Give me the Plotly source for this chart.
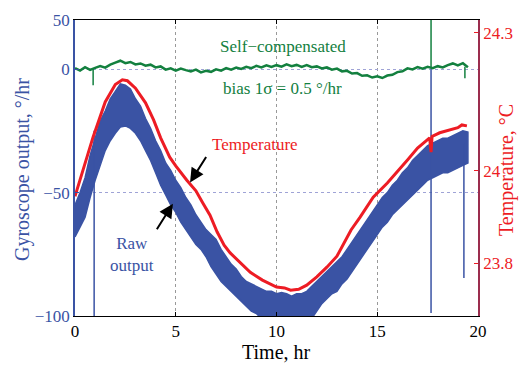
import plotly.graph_objects as go

# ---------------- data ----------------
time = [i * 0.25 for i in range(79)]  # hr, sampling grid 0 .. 19.5

raw_upper = [-55, -50, -44, -35, -28, -21, -17, -12, -9, -6, -6.5, -8, -12, -15, -20, -24,
             -29, -33, -38, -41, -45, -48, -52, -55, -59, -62, -65, -67, -69, -73, -76, -79,
             -81, -84, -86, -87, -88, -89, -90, -90, -91, -90.5, -91, -92, -91, -91, -90, -88,
             -86, -84, -82, -80, -78, -76, -73, -70, -67, -64, -61, -58, -55, -52, -50, -47,
             -45, -42, -40, -37, -35, -33, -31, -30, -29, -28, -28, -27, -26, -25, -25.5]
raw_lower = [-68, -64, -60, -52, -45, -39, -33, -29, -26, -23.5, -23, -24, -26, -29, -33, -37,
             -42, -47, -51, -55, -58, -62, -65, -68, -71, -73, -76, -80, -83, -86, -88, -90,
             -92, -94, -96, -98, -99, -101, -101, -101, -101, -101, -101, -101, -101, -101,
             -101, -101, -98, -95, -93, -91, -90, -87, -85, -82, -79, -76, -73, -70, -67, -64,
             -62, -59, -57, -55, -53, -51, -49, -47, -45, -44, -43, -42, -42, -41, -40, -39, -38]

compensated = [0.4, -0.6, 0.8, -0.3, 0.5, 1.2, 0.6, 1.8, 2.6, 3.4, 2.4, 2.9, 1.9, 2.3, 1.4, 1.8,
               0.7, 1.1, -0.2, 0.3, -0.6, 0.2, -0.4, -0.9, -0.2, -1.3, -0.7, -1.1, -0.1, -0.6,
               0.4, -0.2, 0.6, 0.1, 0.9, 0.4, 1.3, 0.7, 1.5, 0.9, 1.6, 1.0, 1.9, 1.2, 1.7, 0.9,
               1.6, 0.8, 1.1, 0.3, 0.7, -0.2, 0.2, -0.9, -0.7, -1.8, -1.6, -2.7, -2.5, -3.4,
               -2.9, -3.6, -2.6, -2.3, -1.2, -0.9, 0.3, -0.1, 0.8, 0.2, 0.9, 0.4, 1.2, 0.7, 1.6,
               2.3, 1.5, 2.4, 0.8]

temp_t = [0, 0.4, 0.9, 1.5, 2.0, 2.35, 2.6, 3.0, 3.5, 3.9, 4.25, 4.7, 5.0, 5.55, 6.0, 6.35,
          6.7, 7.05, 7.4, 7.7, 8.2, 8.7, 9.3, 10.0, 10.4, 10.7, 11.1, 11.5, 12.0, 12.5, 13.0,
          13.3, 13.7, 14.15, 14.8, 15.5, 16.0, 16.5, 17.0, 17.6, 17.67, 17.72, 18.1, 18.6,
          19.0, 19.2, 19.45]
temperature = [23.945, 24.002, 24.074, 24.150, 24.188, 24.198, 24.196, 24.180, 24.148, 24.111,
               24.072, 24.030, 24.011, 23.980, 23.957, 23.930, 23.904, 23.868, 23.839, 23.822,
               23.800, 23.780, 23.763, 23.748, 23.746, 23.741, 23.743, 23.752, 23.770, 23.791,
               23.815, 23.840, 23.872, 23.900, 23.943, 23.974, 23.998, 24.024, 24.050, 24.072,
               24.041, 24.075, 24.083, 24.089, 24.094, 24.100, 24.098]

# glitches (spikes) in the records
raw_spike_t = [0.95, 17.67, 19.3]
raw_spike_top = [-25, 0, -30]
raw_spike_bottom = [-101, -98.8, -84.6]
comp_spike_t = [0.9, 17.67, 19.35]
comp_spike_from = [0.5, 0.5, 1.0]
comp_spike_to = [-6.5, 25, -3.7]

x_ticks = [0, 5, 10, 15, 20]
left_tickvals = [-100, -50, 0, 19.9]
left_ticktext = ["\u2212100", "\u221250", "0", "50"]
right_tickvals = [23.8, 24.0, 24.3]
right_ticktext = ["23.8", "24", "24.3"]

# ---------------- style ----------------
BLUE = "#3A53A4"
RED = "#ED1C24"
GREEN = "#13803F"
MAROON = "#9B2D4E"
FONT = "Liberation Serif"

W, H = 524, 367
ML, MR, MT, MB = 75, 46, 20, 51


def spikes(ts, a, b):
    xs, ys = [], []
    for t, y0, y1 in zip(ts, a, b):
        xs += [t, t, None]
        ys += [y0, y1, None]
    return xs, ys


def px(x):
    return (x - ML) / (W - ML - MR)


def py(y):
    return (H - MB - y) / (H - MT - MB)


fig = go.Figure()

# raw output band
fig.add_trace(go.Scatter(
    x=time + time[::-1], y=raw_upper + raw_lower[::-1],
    fill="toself", fillcolor=BLUE, mode="lines",
    line=dict(color=BLUE, width=1.5), hoverinfo="skip", showlegend=False))
sx, sy = spikes(raw_spike_t, raw_spike_top, raw_spike_bottom)
fig.add_trace(go.Scatter(x=sx, y=sy, mode="lines", line=dict(color=BLUE, width=1.5),
                         showlegend=False))

# temperature
fig.add_trace(go.Scatter(x=temp_t, y=temperature, yaxis="y2", mode="lines",
                         line=dict(color=RED, width=3), showlegend=False))

# self-compensated
fig.add_trace(go.Scatter(x=time, y=compensated, mode="lines",
                         line=dict(color=GREEN, width=2.5), showlegend=False))
gx, gy = spikes(comp_spike_t, comp_spike_from, comp_spike_to)
fig.add_trace(go.Scatter(x=gx, y=gy, mode="lines", line=dict(color=GREEN, width=1.5),
                         showlegend=False))

fig.update_layout(
    width=W, height=H,
    margin=dict(l=ML, r=MR, t=MT, b=MB),
    paper_bgcolor="white", plot_bgcolor="white",
    font=dict(family=FONT, size=17, color="black"),
    xaxis=dict(range=[0, 20], tickvals=x_ticks, ticks="inside", ticklen=4,
               tickcolor="black", showline=True, linecolor="black", linewidth=1,
               mirror="ticks", showgrid=True, gridcolor="#999999", griddash="dot",
               gridwidth=1, zeroline=False, tickfont=dict(size=17, color="black")),
    yaxis=dict(range=[-100, 19.9], tickvals=left_tickvals, ticktext=left_ticktext,
               ticks="inside", ticklen=4, tickcolor=BLUE, showline=True, linecolor=BLUE,
               linewidth=1.5, showgrid=True, gridcolor="#9fa3d6", griddash="dot",
               zeroline=False, tickfont=dict(size=17, color=BLUE)),
    yaxis2=dict(range=[23.685, 24.328], overlaying="y", side="right",
                tickvals=right_tickvals, ticktext=right_ticktext, ticks="inside",
                ticklen=4, tickcolor=RED, showline=True, linecolor=MAROON, linewidth=1.5,
                showgrid=False, zeroline=False, tickfont=dict(size=17, color=RED)),
    annotations=[
        dict(text="Self\u2212compensated", x=10.32, y=9.3, xref="x", yref="y",
             showarrow=False, font=dict(size=17, color=GREEN)),
        dict(text="bias 1\u03c3 = 0.5 \u00b0/hr", x=10.32, y=-8.0, xref="x", yref="y",
             showarrow=False, font=dict(size=17, color=GREEN)),
        dict(text="Temperature", x=8.93, y=-30.5, xref="x", yref="y",
             showarrow=False, font=dict(size=17, color=RED)),
        dict(text="Raw<br>output", x=2.83, y=-75, xref="x", yref="y",
             showarrow=False, font=dict(size=17, color=BLUE)),
        dict(text="", x=5.71, y=-45.9, xref="x", yref="y", showarrow=True,
             ax=17, ay=-27, arrowhead=2, arrowsize=1.4, arrowwidth=2, arrowcolor="black"),
        dict(text="", x=4.86, y=-54.5, xref="x", yref="y", showarrow=True,
             ax=-17, ay=27, arrowhead=2, arrowsize=1.4, arrowwidth=2, arrowcolor="black"),
        dict(text="Gyroscope output, \u00b0/hr", x=px(22), y=py(170), xref="paper",
             yref="paper", xanchor="center", yanchor="middle", showarrow=False,
             textangle=-90, font=dict(size=20, color=BLUE)),
        dict(text="Temperature, \u00b0C", x=px(506), y=py(170), xref="paper",
             yref="paper", xanchor="center", yanchor="middle", showarrow=False,
             textangle=-90, font=dict(size=20, color=RED)),
        dict(text="Time, hr", x=px(276), y=py(352), xref="paper", yref="paper",
             xanchor="center", yanchor="middle", showarrow=False,
             font=dict(size=20, color="black")),
    ],
)

fig.write_html("out.html")
